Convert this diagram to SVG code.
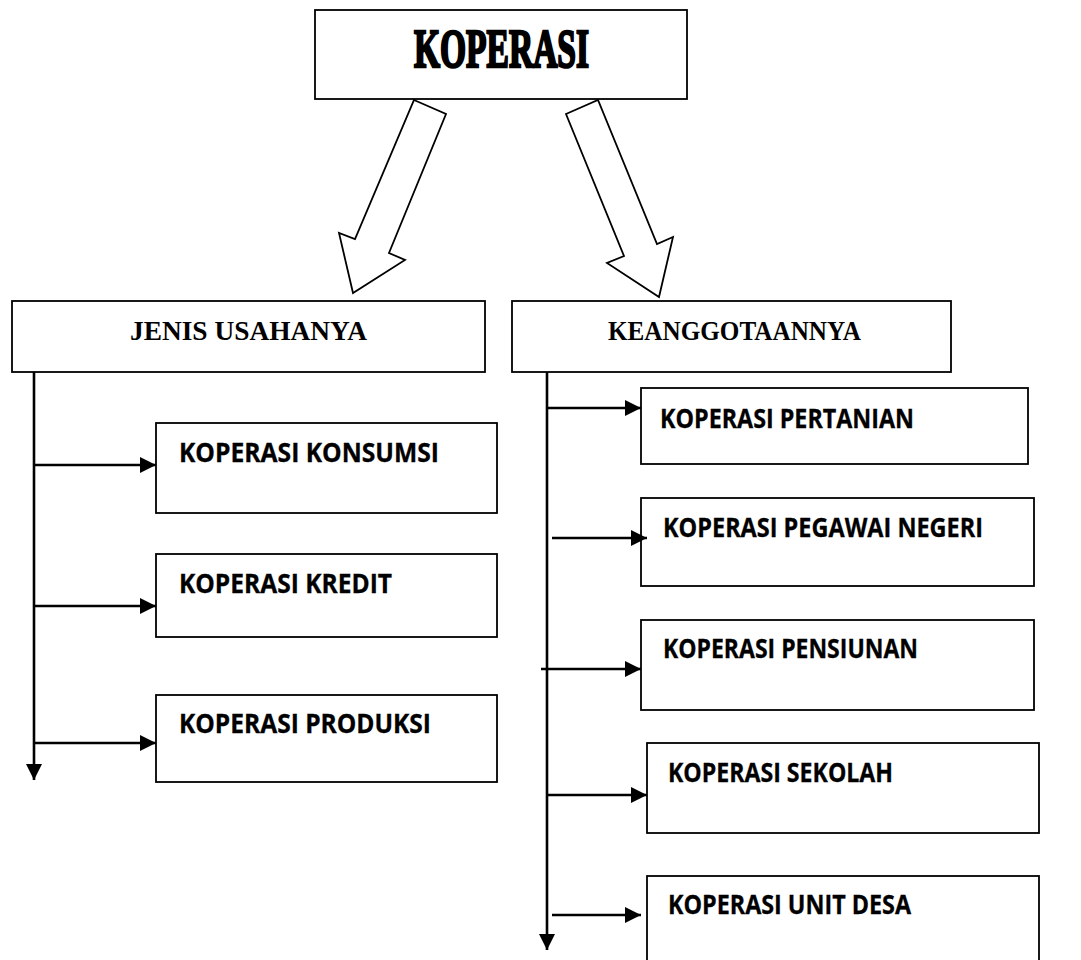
<svg xmlns="http://www.w3.org/2000/svg" width="1081" height="960" viewBox="0 0 1081 960">
<style>
  .box { fill: #fff; stroke: #000; stroke-width: 1.8; }
  .big { fill: #fff; stroke: #000; stroke-width: 1.8; stroke-linejoin: miter; }
  .title { font-family: "Liberation Serif", serif; font-weight: bold; font-size: 55px; fill: #000; stroke: #000; stroke-width: 2.6; stroke-linejoin: miter; }
  .cat { font-family: "Liberation Serif", serif; font-weight: bold; font-size: 27px; fill: #000; }
  .item { font-family: "Open Sans", "Noto Sans", sans-serif; font-weight: bold; font-size: 26px; fill: #000; stroke: #000; stroke-width: 0.3; }
  .arr { stroke: #000; stroke-width: 2.6; fill: none; marker-end: url(#ah); }
</style>
<defs>
  <marker id="ah" viewBox="0 0 16 16" markerWidth="16" markerHeight="16" refX="16" refY="8" markerUnits="userSpaceOnUse" orient="auto">
    <path d="M0,0 L16,8 L0,16 z" fill="#000"/>
  </marker>
</defs>
<rect width="1081" height="960" fill="#fff"/>

<g id="koperasi">
  <rect class="box" x="315" y="10" width="372" height="89"/>
  <text class="title" x="414" y="67" textLength="175" lengthAdjust="spacingAndGlyphs">KOPERASI</text>
</g>

<g id="block-arrows">
  <polygon class="big" points="414,100 446,114 389,253 405,260 353,293 339,233 355,239"/>
  <polygon class="big" points="566,114 598,100 657,244 673,237 659,297 607,263 624,256"/>
</g>

<g id="jenis-usahanya">
  <rect class="box" x="12" y="301" width="473" height="71"/>
  <text class="cat" x="130" y="340" textLength="237" lengthAdjust="spacingAndGlyphs">JENIS USAHANYA</text>
</g>

<g id="keanggotaannya">
  <rect class="box" x="512" y="301" width="439" height="71"/>
  <text class="cat" x="608" y="340" textLength="253" lengthAdjust="spacingAndGlyphs">KEANGGOTAANNYA</text>
</g>

<g id="konsumsi">
  <rect class="box" x="156" y="423" width="341" height="90"/>
  <text class="item" x="179" y="462" textLength="260" lengthAdjust="spacingAndGlyphs">KOPERASI KONSUMSI</text>
</g>
<g id="kredit">
  <rect class="box" x="156" y="554" width="341" height="83"/>
  <text class="item" x="179" y="593" textLength="213" lengthAdjust="spacingAndGlyphs">KOPERASI KREDIT</text>
</g>
<g id="produksi">
  <rect class="box" x="156" y="695" width="341" height="87"/>
  <text class="item" x="179" y="733" textLength="252" lengthAdjust="spacingAndGlyphs">KOPERASI PRODUKSI</text>
</g>

<g id="pertanian">
  <rect class="box" x="641" y="388" width="387" height="76"/>
  <text class="item" x="660" y="428" textLength="254" lengthAdjust="spacingAndGlyphs">KOPERASI PERTANIAN</text>
</g>
<g id="pegawai-negeri">
  <rect class="box" x="641" y="498" width="393" height="88"/>
  <text class="item" x="663" y="537" textLength="320" lengthAdjust="spacingAndGlyphs">KOPERASI PEGAWAI NEGERI</text>
</g>
<g id="pensiunan">
  <rect class="box" x="641" y="620" width="393" height="90"/>
  <text class="item" x="663" y="658" textLength="255" lengthAdjust="spacingAndGlyphs">KOPERASI PENSIUNAN</text>
</g>
<g id="sekolah">
  <rect class="box" x="647" y="743" width="392" height="90"/>
  <text class="item" x="668" y="782" textLength="225" lengthAdjust="spacingAndGlyphs">KOPERASI SEKOLAH</text>
</g>
<g id="unit-desa">
  <rect class="box" x="647" y="876" width="392" height="100"/>
  <text class="item" x="668" y="914" textLength="243" lengthAdjust="spacingAndGlyphs">KOPERASI UNIT DESA</text>
</g>

<g id="connectors">
  <line class="arr" x1="34" y1="372" x2="34" y2="780"/>
  <line class="arr" x1="34" y1="465" x2="156" y2="465"/>
  <line class="arr" x1="34" y1="606" x2="156" y2="606"/>
  <line class="arr" x1="34" y1="743" x2="156" y2="743"/>

  <line class="arr" x1="547" y1="372" x2="547" y2="950"/>
  <line class="arr" x1="547" y1="408" x2="641" y2="408"/>
  <line class="arr" x1="552" y1="538" x2="647" y2="538"/>
  <line class="arr" x1="541" y1="669" x2="641" y2="669"/>
  <line class="arr" x1="547" y1="795" x2="647" y2="795"/>
  <line class="arr" x1="552" y1="915" x2="641" y2="915"/>
</g>
</svg>
